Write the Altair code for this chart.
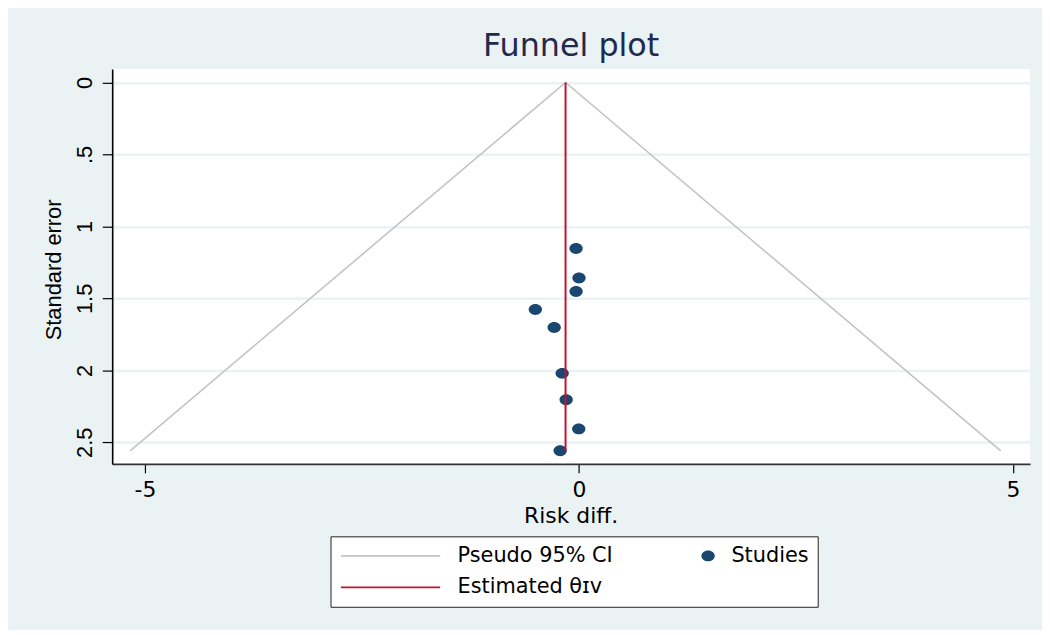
import altair as alt
import pandas as pd

# ---- data ----
study_rd = [-0.033, 0.001, -0.033, -0.502, -0.285, -0.193, -0.147, -0.002, -0.216]
study_se = [1.154, 1.359, 1.452, 1.577, 1.703, 2.021, 2.204, 2.407, 2.559]
theta_iv = -0.154
se_max = 2.559
ci_rd = [-5.17, -0.154, 4.86]
ci_se = [2.559, 0.0, 2.559]
x_ticks = [-5, 0, 5]
x_tick_labels = ["-5", "0", "5"]
y_ticks = [0, 0.5, 1, 1.5, 2, 2.5]
y_tick_labels = ["0", ".5", "1", "1.5", "2", "2.5"]
series = ["Pseudo 95% CI", "Estimated θɪᴠ", "Studies"]
series_colors = ["#c3c3c3", "#c8102e", "#1a476f"]

LINE_SYM = "M-9.4,-0.09H0.6V0.09H-9.4Z"
DOT_SYM = "M-0.67,0A0.67,0.55 0 1,0 0.67,0A0.67,0.55 0 1,0 -0.67,0Z"
series_shapes = [LINE_SYM, LINE_SYM, DOT_SYM]

WIDE = "DejaVu Sans"
NARROW = "Liberation Sans"

ci_df = pd.DataFrame({"rd": ci_rd, "se": ci_se, "series": series[0]})
est_df = pd.DataFrame({"rd": [theta_iv], "se0": [0.0], "se1": [se_max], "series": [series[1]]})
st_df = pd.DataFrame({"rd": study_rd, "se": study_se, "series": series[2]})

x_scale = alt.Scale(domain=[-5.377, 5.198], nice=False, zero=False)
y_scale = alt.Scale(domain=[-0.094, 2.650], nice=False, zero=False, reverse=True)
color_scale = alt.Scale(domain=series, range=series_colors)
shape_scale = alt.Scale(domain=series, range=series_shapes)

x_tick_expr = "[" + ",".join("'" + s + "'" for s in x_tick_labels) + "][indexof([" + ",".join(str(v) for v in x_ticks) + "], datum.value)]"
y_tick_expr = "[" + ",".join("'" + s + "'" for s in y_tick_labels) + "][indexof([" + ",".join(str(v) for v in y_ticks) + "], datum.value)]"

x_axis = alt.Axis(
    values=x_ticks, labelExpr=x_tick_expr, title="Risk diff.", grid=False,
    tickSize=9, tickColor="#000000", tickWidth=1.2,
    domainColor="#333333", domainWidth=1.6,
    labelFontSize=22, labelFont=WIDE, labelColor="#000000",
    labelBaseline="alphabetic", labelPadding=24,
    titleFontSize=22, titleFont=WIDE, titleFontWeight="normal", titleColor="#000000",
    titleBaseline="alphabetic", titleX=462, titleY=59,
)
y_axis = alt.Axis(
    values=y_ticks, labelExpr=y_tick_expr, title="Standard error",
    grid=True, gridColor="#eaf2f3", gridWidth=2.5,
    tickSize=10, tickColor="#000000", tickWidth=1.2,
    domainColor="#000000", domainWidth=1.6,
    labelAngle=270, labelAlign="center", labelBaseline="alphabetic", labelPadding=11,
    labelFontSize=22, labelFont=NARROW, labelColor="#000000",
    titleFontSize=22, titleFont=NARROW, titleFontWeight="normal", titleColor="#000000",
    titleAngle=270, titleAlign="center", titleBaseline="alphabetic", titleX=-52, titleY=202,
)

legend = alt.Legend(
    title=None, orient="none", legendX=220, legendY=471, columns=2,
    symbolSize=400, symbolStrokeWidth=0, symbolOffset=85, labelOffset=13,
    labelFontSize=21, labelFont=WIDE, labelColor="#000000", labelLimit=400,
    rowPadding=10, columnPadding=0, padding=9,
    strokeColor="#222222", fillColor="#ffffff",
)

ci_layer = alt.Chart(ci_df).mark_line(strokeWidth=1.6, color=series_colors[0]).encode(
    x=alt.X("rd:Q", scale=x_scale, axis=x_axis),
    y=alt.Y("se:Q", scale=y_scale, axis=y_axis),
)

st_layer = alt.Chart(st_df).mark_point(filled=True, size=400, opacity=1).encode(
    x=alt.X("rd:Q", scale=x_scale),
    y=alt.Y("se:Q", scale=y_scale),
    color=alt.Color("series:N", scale=color_scale, legend=legend),
    shape=alt.Shape("series:N", scale=shape_scale, legend=legend),
)

est_layer = alt.Chart(est_df).mark_rule(strokeWidth=2, color=series_colors[1]).encode(
    x=alt.X("rd:Q", scale=x_scale),
    y=alt.Y("se0:Q", scale=y_scale),
    y2="se1:Q",
)

chart = alt.layer(ci_layer, st_layer, est_layer).properties(
    width=925, height=398,
    title=alt.Title("Funnel plot", fontSize=32, font=WIDE, fontWeight="normal",
                    color="#1f2a4e", anchor="middle", offset=6),
    autosize=alt.AutoSizeParams(type="none"),
    padding={"left": 105, "top": 59, "right": 12, "bottom": 165},
    background="#eaf2f3",
).configure_view(fill="#ffffff", stroke=None)

chart.save("out.html", embed_options={"renderer": "svg", "actions": False})
